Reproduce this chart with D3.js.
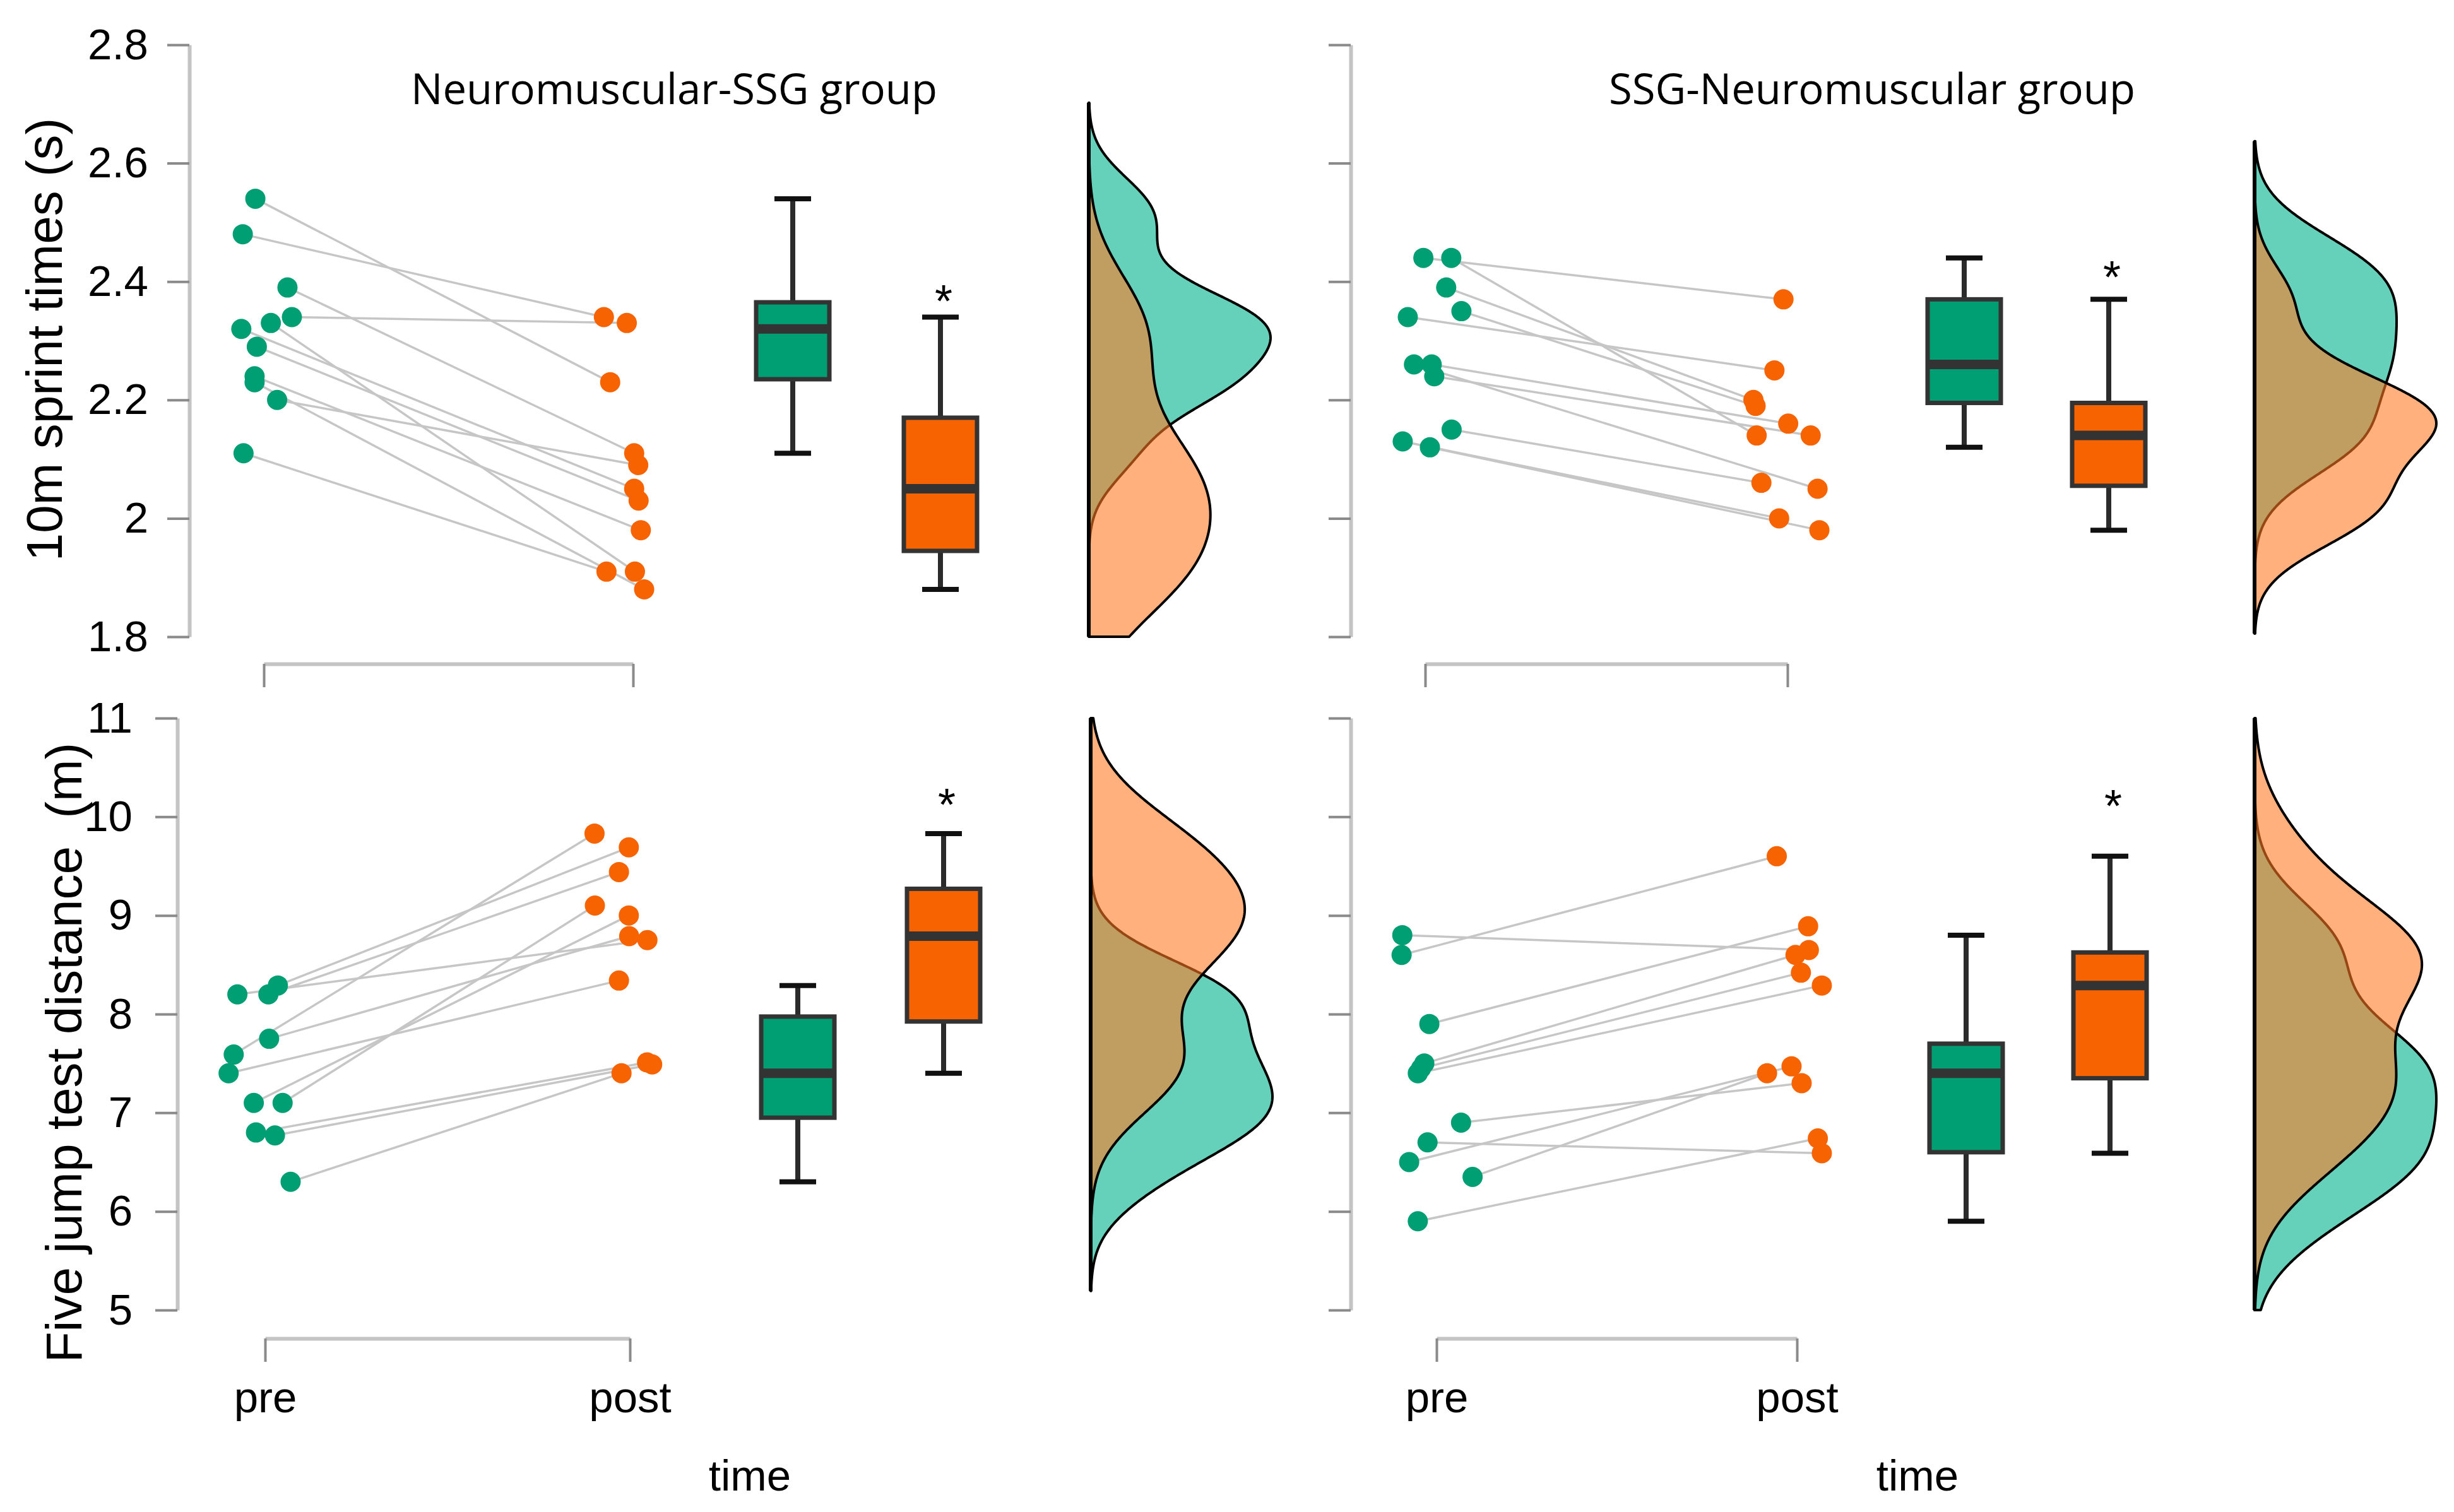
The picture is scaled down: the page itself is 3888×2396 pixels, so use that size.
<!DOCTYPE html>
<html>
<head>
<meta charset="utf-8">
<script src="https://cdn.jsdelivr.net/npm/d3@7"></script>
<style>
  html, body { margin: 0; padding: 0; background: #ffffff; }
  svg { display: block; }
</style>
</head>
<body>
<svg id="chart" width="3888" height="2396"></svg>
<script>
// ================= DATA =================
const timeLabels = ["pre", "post"];
const groupTitles = ["Neuromuscular-SSG group", "SSG-Neuromuscular group"];
const yTitles = ["10m sprint times (s)", "Five jump test distance  (m)"];
const xTitle = "time";

const sprintDomain = [1.8, 2.8];
const sprintTicks = [1.8, 2.0, 2.2, 2.4, 2.6, 2.8];
const sprintTickLabels = ["1.8", "2", "2.2", "2.4", "2.6", "2.8"];
const jumpDomain = [5, 11];
const jumpTicks = [5, 6, 7, 8, 9, 10, 11];
const jumpTickLabels = ["5", "6", "7", "8", "9", "10", "11"];

// paired participants (index i: pre[i] -> post[i]); jitter in units of the pre-post distance
// 10 m sprint, Neuromuscular-SSG group
const sprintNS_pre     = [2.54, 2.48, 2.34, 2.39, 2.33, 2.11, 2.32, 2.29, 2.24, 2.23, 2.20];
const sprintNS_post    = [2.23, 2.34, 2.33, 2.11, 1.91, 1.91, 2.05, 2.03, 1.98, 1.88, 2.09];
const sprintNS_preJit  = [-0.023, -0.057, 0.076, 0.064, 0.019, -0.055, -0.061, -0.019, -0.025, -0.025, 0.036];
const sprintNS_postJit = [-0.062, -0.079, -0.017, 0.003, 0.005, -0.072, 0.003, 0.015, 0.021, 0.030, 0.014];

// 10 m sprint, SSG-Neuromuscular group
const sprintSN_pre     = [2.44, 2.44, 2.39, 2.35, 2.34, 2.26, 2.26, 2.24, 2.15, 2.13, 2.12];
const sprintSN_post    = [2.37, 2.14, 2.20, 2.19, 2.25, 2.05, 2.16, 2.14, 2.06, 2.00, 1.98];
const sprintSN_preJit  = [-0.005, 0.072, 0.058, 0.100, -0.048, -0.031, 0.018, 0.025, 0.073, -0.062, 0.013];
const sprintSN_postJit = [-0.011, -0.085, -0.094, -0.088, -0.036, 0.083, 0.002, 0.064, -0.072, -0.023, 0.088];

// Five jump test, Neuromuscular-SSG group
const jumpNS_pre     = [8.20, 8.20, 8.29, 7.75, 7.59, 7.40, 7.10, 7.10, 6.80, 6.77, 6.30];
const jumpNS_post    = [8.75, 9.44, 9.69, 8.79, 9.83, 8.34, 9.00, 9.10, 7.51, 7.49, 7.40];
const jumpNS_preJit  = [-0.076, 0.009, 0.035, 0.011, -0.086, -0.100, -0.031, 0.048, -0.025, 0.027, 0.070];
const jumpNS_postJit = [0.048, -0.030, -0.003, -0.002, -0.097, -0.030, -0.003, -0.096, 0.047, 0.061, -0.023];

// Five jump test, SSG-Neuromuscular group
const jumpSN_pre     = [8.80, 8.60, 7.90, 7.50, 7.45, 7.40, 6.90, 6.70, 6.50, 6.35, 5.90];
const jumpSN_post    = [8.65, 9.60, 8.89, 8.60, 8.42, 8.29, 7.30, 6.59, 7.47, 7.40, 6.74];
const jumpSN_preJit  = [-0.095, -0.097, -0.020, -0.034, -0.043, -0.052, 0.068, -0.025, -0.076, 0.100, -0.052];
const jumpSN_postJit = [0.033, -0.056, 0.031, -0.004, 0.011, 0.069, 0.013, 0.069, -0.015, -0.083, 0.058];

// significance asterisk heights (data units), one per panel
const starValues = [2.38, 2.42, 10.20, 10.19];

// ================= LAYOUT / STYLE =================
const W = 3888, H = 2396;
const colPre = "#009E73", colPost = "#F76300";
const densPreFill = "#66D1BA", densPostFill = "#FF7922", densPostOpacity = 0.59;
const fontMain = "'Liberation Sans', Arial, Helvetica, sans-serif";
const fontTitle = "'Open Sans', 'Noto Sans', sans-serif";

const layouts = [
  { axisX: 300,  yTop: 71,   yBot: 1009, preX: 418,  postX: 1003, bracketY: 1052, boxX: [1256, 1490], densX: 1725, labelPad: 30, tickLabels: true,  timeLabels: false },
  { axisX: 2140, yTop: 71,   yBot: 1009, preX: 2258, postX: 2832, bracketY: 1052, boxX: [3112, 3341], densX: 3572, labelPad: 30, tickLabels: false, timeLabels: false },
  { axisX: 281,  yTop: 1138, yBot: 2076, preX: 420,  postX: 998,  bracketY: 2121, boxX: [1264, 1495], densX: 1728, labelPad: 36, tickLabels: true,  timeLabels: true },
  { axisX: 2140, yTop: 1138, yBot: 2076, preX: 2276, postX: 2847, bracketY: 2121, boxX: [3115, 3343], densX: 3572, labelPad: 36, tickLabels: false, timeLabels: true }
];

const panelData = [
  { pre: sprintNS_pre, post: sprintNS_post, preJit: sprintNS_preJit, postJit: sprintNS_postJit, domain: sprintDomain, ticks: sprintTicks, labels: sprintTickLabels },
  { pre: sprintSN_pre, post: sprintSN_post, preJit: sprintSN_preJit, postJit: sprintSN_postJit, domain: sprintDomain, ticks: sprintTicks, labels: sprintTickLabels },
  { pre: jumpNS_pre,   post: jumpNS_post,   preJit: jumpNS_preJit,   postJit: jumpNS_postJit,   domain: jumpDomain,   ticks: jumpTicks,   labels: jumpTickLabels },
  { pre: jumpSN_pre,   post: jumpSN_post,   preJit: jumpSN_preJit,   postJit: jumpSN_postJit,   domain: jumpDomain,   ticks: jumpTicks,   labels: jumpTickLabels }
];

// ================= HELPERS =================
function boxStats(values) {
  const s = values.slice().sort(d3.ascending);
  const q1 = d3.quantile(s, 0.25), med = d3.quantile(s, 0.5), q3 = d3.quantile(s, 0.75);
  const iqr = q3 - q1;
  const lo = d3.min(s.filter(v => v >= q1 - 1.5 * iqr));
  const hi = d3.max(s.filter(v => v <= q3 + 1.5 * iqr));
  return { q1, med, q3, lo, hi };
}
function bwNrd0(values) {
  const s = values.slice().sort(d3.ascending);
  const iqr = d3.quantile(s, 0.75) - d3.quantile(s, 0.25);
  const sd = d3.deviation(s);
  return 0.9 * Math.min(sd, iqr / 1.34) * Math.pow(s.length, -0.2);
}
function kde(values, domain) {
  const bw = bwNrd0(values);
  const a = Math.max(domain[0], d3.min(values) - 3 * bw);
  const b = Math.min(domain[1], d3.max(values) + 3 * bw);
  const n = 512, out = [];
  const c = 1 / (bw * Math.sqrt(2 * Math.PI));
  for (let i = 0; i < n; i++) {
    const y = a + (b - a) * i / (n - 1);
    const f = c * d3.mean(values, v => Math.exp(-0.5 * ((y - v) / bw) ** 2));
    out.push([y, f]);
  }
  return out;
}

// ================= DRAW =================
const svg = d3.select("#chart");
svg.append("rect").attr("width", W).attr("height", H).attr("fill", "#ffffff");

panelData.forEach((pd, pi) => {
  const L = layouts[pi];
  const g = svg.append("g");
  const y = d3.scaleLinear().domain(pd.domain).range([L.yBot, L.yTop]);
  const x = d3.scaleLinear().domain([0, 1]).range([L.preX, L.postX]);

  // y axis
  const yAxis = d3.axisLeft(y)
    .tickValues(pd.ticks)
    .tickFormat((d, i) => L.tickLabels ? pd.labels[i] : "")
    .tickSize(35).tickSizeOuter(0).tickPadding(L.labelPad);
  const ya = g.append("g").attr("transform", `translate(${L.axisX},0)`).call(yAxis);
  ya.select(".domain").attr("stroke", "#c4c4c4").attr("stroke-width", 6);
  ya.selectAll(".tick line").attr("stroke", "#8a8a8a").attr("stroke-width", 4);
  ya.selectAll(".tick text").attr("font-family", fontMain).attr("font-size", 69).attr("fill", "#000");

  // x bracket axis
  const xAxis = d3.axisBottom(x)
    .tickValues([0, 1])
    .tickFormat((d, i) => L.timeLabels ? timeLabels[i] : "")
    .tickSize(37).tickSizeOuter(0).tickPadding(31);
  const xa = g.append("g").attr("transform", `translate(0,${L.bracketY})`).call(xAxis);
  xa.select(".domain").attr("stroke", "#c4c4c4").attr("stroke-width", 6);
  xa.selectAll(".tick line").attr("stroke", "#8a8a8a").attr("stroke-width", 4);
  xa.selectAll(".tick text").attr("font-family", fontMain).attr("font-size", 69).attr("fill", "#000");

  // density (half violins)
  const dPre = kde(pd.pre, pd.domain), dPost = kde(pd.post, pd.domain);
  const fMax = Math.max(d3.max(dPre, d => d[1]), d3.max(dPost, d => d[1]));
  const wScale = d3.scaleLinear().domain([0, fMax]).range([0, 288]);
  const area = d3.area()
    .y(d => y(d[0]))
    .x0(L.densX)
    .x1(d => L.densX + wScale(d[1]));
  g.append("path").attr("d", area(dPre) + "Z")
    .attr("fill", densPreFill).attr("stroke", "#000").attr("stroke-width", 4).attr("stroke-linejoin", "round");
  g.append("path").attr("d", area(dPost) + "Z")
    .attr("fill", densPostFill).attr("fill-opacity", densPostOpacity)
    .attr("stroke", "#000").attr("stroke-width", 4).attr("stroke-linejoin", "round");
  g.append("line")
    .attr("x1", L.densX).attr("x2", L.densX)
    .attr("y1", y(Math.min(pd.domain[1], Math.max(d3.max(dPre, d => d[0]), d3.max(dPost, d => d[0])))))
    .attr("y2", y(Math.max(pd.domain[0], Math.min(d3.min(dPre, d => d[0]), d3.min(dPost, d => d[0])))))
    .attr("stroke", "#000").attr("stroke-width", 6);

  // paired lines
  const idx = d3.range(pd.pre.length);
  g.append("g").selectAll("line").data(idx).join("line")
    .attr("x1", i => x(0 + pd.preJit[i])).attr("y1", i => y(pd.pre[i]))
    .attr("x2", i => x(1 + pd.postJit[i])).attr("y2", i => y(pd.post[i]))
    .attr("stroke", "#c6c6c6").attr("stroke-width", 3.5);

  // points
  g.append("g").selectAll("circle").data(idx).join("circle")
    .attr("cx", i => x(0 + pd.preJit[i])).attr("cy", i => y(pd.pre[i]))
    .attr("r", 16).attr("fill", colPre);
  g.append("g").selectAll("circle").data(idx).join("circle")
    .attr("cx", i => x(1 + pd.postJit[i])).attr("cy", i => y(pd.post[i]))
    .attr("r", 16).attr("fill", colPost);

  // box plots
  [[pd.pre, colPre], [pd.post, colPost]].forEach(([vals, col], bi) => {
    const st = boxStats(vals);
    const cx = L.boxX[bi];
    const bw = 116, capW = 58;
    const bg = g.append("g");
    bg.append("line").attr("x1", cx).attr("x2", cx).attr("y1", y(st.q3)).attr("y2", y(st.hi))
      .attr("stroke", "#2b2b2b").attr("stroke-width", 8);
    bg.append("line").attr("x1", cx).attr("x2", cx).attr("y1", y(st.q1)).attr("y2", y(st.lo))
      .attr("stroke", "#2b2b2b").attr("stroke-width", 8);
    bg.append("line").attr("x1", cx - capW / 2).attr("x2", cx + capW / 2).attr("y1", y(st.hi)).attr("y2", y(st.hi))
      .attr("stroke", "#111").attr("stroke-width", 8);
    bg.append("line").attr("x1", cx - capW / 2).attr("x2", cx + capW / 2).attr("y1", y(st.lo)).attr("y2", y(st.lo))
      .attr("stroke", "#111").attr("stroke-width", 8);
    bg.append("rect").attr("x", cx - bw / 2).attr("width", bw)
      .attr("y", y(st.q3)).attr("height", y(st.q1) - y(st.q3))
      .attr("fill", col).attr("stroke", "#333").attr("stroke-width", 7);
    bg.append("line").attr("x1", cx - bw / 2).attr("x2", cx + bw / 2).attr("y1", y(st.med)).attr("y2", y(st.med))
      .attr("stroke", "#333").attr("stroke-width", 15);
  });

  // significance star
  g.append("text").attr("x", L.boxX[1] + 5).attr("y", y(starValues[pi]) + 37)
    .attr("text-anchor", "middle").attr("font-family", fontMain).attr("font-size", 72).attr("fill", "#000")
    .text("*");
});

// panel titles
svg.append("text").attr("x", 1068).attr("y", 165).attr("text-anchor", "middle")
  .attr("font-family", fontTitle).attr("font-size", 67).attr("fill", "#000").text(groupTitles[0]);
svg.append("text").attr("x", 2966).attr("y", 165).attr("text-anchor", "middle")
  .attr("font-family", fontTitle).attr("font-size", 67).attr("fill", "#000").text(groupTitles[1]);

// y titles
svg.append("text").attr("transform", "translate(98,538) rotate(-90)").attr("text-anchor", "middle")
  .attr("font-family", fontMain).attr("font-size", 80).attr("fill", "#000").text(yTitles[0]);
svg.append("text").attr("transform", "translate(129,1668) rotate(-90)").attr("text-anchor", "middle")
  .attr("font-family", fontMain).attr("font-size", 80).attr("fill", "#000")
  .style("white-space", "pre").text(yTitles[1]);

// x titles
[1188, 3038].forEach(cx => {
  svg.append("text").attr("x", cx).attr("y", 2362).attr("text-anchor", "middle")
    .attr("font-family", fontMain).attr("font-size", 69).attr("fill", "#000").text(xTitle);
});
</script>
</body>
</html>
